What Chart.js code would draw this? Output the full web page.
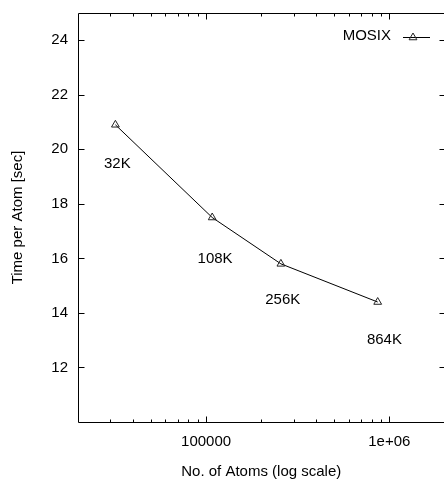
<!DOCTYPE html>
<html>
<head>
<meta charset="utf-8">
<script src="https://cdn.jsdelivr.net/npm/chart.js@4/dist/chart.umd.min.js"></script>
<style>
  html, body { margin: 0; padding: 0; background: #fff; overflow: hidden; }
  #wrap { width: 450px; height: 479px; }
</style>
</head>
<body>
<div id="wrap"><canvas id="c" width="450" height="479"></canvas></div>
<script>
// Simulation size (atoms) and measured time per atom (seconds)
const atoms = [32000, 108000, 256000, 864000];
const timePerAtom = [20.9, 17.5, 15.8, 14.4];
const seriesName = 'MOSIX';

// Point annotations and where they sit, in data coordinates
const labelText = ['32K', '108K', '256K', '864K'];
const labelAtoms = [32800, 112000, 262000, 940000];
const labelTimes = [19.45, 15.98, 14.47, 13.0];

// Axis ticks
const yTicks = [12, 14, 16, 18, 20, 22, 24];
const xMajorTicks = [100000, 1000000];
const xTickText = { 100000: '100000', 1000000: '1e+06' };

const FONT = 'Liberation Sans, Arial, Helvetica, sans-serif';

// Build minor log ticks (2..9 x decade) inside the axis range
function minorLogTicks(min, max) {
  const out = [];
  for (let d = Math.floor(Math.log10(min)); d <= Math.ceil(Math.log10(max)); d++) {
    for (let m = 2; m <= 9; m++) {
      const v = m * Math.pow(10, d);
      if (v > min && v < max) out.push(v);
    }
  }
  return out;
}

// The frame is fixed, so labels must not push the plot area around
function noEdgePadding(s) {
  s.paddingTop = 0; s.paddingBottom = 0; s.paddingLeft = 0; s.paddingRight = 0;
}

// Frame, inward ticks mirrored on all sides, point annotations and key
const framePlugin = {
  id: 'frame',
  afterDatasetsDraw(chart) {
    const { ctx, chartArea: a, scales: { x, y } } = chart;
    ctx.save();
    ctx.strokeStyle = '#000';
    ctx.lineWidth = 1;
    const L = Math.round(a.left) + 0.5, R = Math.round(a.right) + 0.5;
    const T = Math.round(a.top) + 0.5, B = Math.round(a.bottom) + 0.5;
    ctx.beginPath();
    ctx.rect(L, T, R - L, B - T);
    // y ticks, left and right
    yTicks.forEach(v => {
      const py = Math.round(y.getPixelForValue(v)) + 0.5;
      ctx.moveTo(L, py); ctx.lineTo(L + 6, py);
      ctx.moveTo(R, py); ctx.lineTo(R - 6, py);
    });
    // x major ticks, bottom and top
    xMajorTicks.forEach(v => {
      const px = Math.round(x.getPixelForValue(v)) + 0.5;
      ctx.moveTo(px, B); ctx.lineTo(px, B - 6);
      ctx.moveTo(px, T); ctx.lineTo(px, T + 6);
    });
    // x minor ticks
    minorLogTicks(x.min, x.max).forEach(v => {
      const px = Math.round(x.getPixelForValue(v)) + 0.5;
      ctx.moveTo(px, B); ctx.lineTo(px, B - 3);
      ctx.moveTo(px, T); ctx.lineTo(px, T + 3);
    });
    ctx.stroke();

    // annotations
    ctx.fillStyle = '#000';
    ctx.font = '15px ' + FONT;
    ctx.textAlign = 'center';
    ctx.textBaseline = 'middle';
    labelText.forEach((t, i) => {
      ctx.fillText(t, x.getPixelForValue(labelAtoms[i]), y.getPixelForValue(labelTimes[i]));
    });

    // key: name, then line sample with hollow marker
    ctx.textAlign = 'right';
    ctx.fillText(seriesName, 391, 36);
    ctx.beginPath();
    ctx.moveTo(403, 37.5); ctx.lineTo(430, 37.5);
    ctx.stroke();
    const ds = chart.data.datasets[0];
    ctx.fillStyle = 'rgba(255,255,255,0)';
    ctx.strokeStyle = '#222';
    Chart.helpers.drawPoint(ctx, {
      pointStyle: 'triangle', radius: ds.pointRadius, rotation: 0, borderWidth: 1
    }, 413, 37.5);
    ctx.restore();
  }
};

new Chart(document.getElementById('c'), {
  type: 'scatter',
  data: {
    datasets: [{
      label: seriesName,
      data: atoms.map((a, i) => ({ x: a, y: timePerAtom[i] })),
      showLine: true,
      borderColor: '#000',
      borderWidth: 1,
      pointStyle: 'triangle',
      pointRadius: 4.5,
      pointBorderColor: '#222',
      pointBorderWidth: 1,
      pointBackgroundColor: 'rgba(255,255,255,0)',
      tension: 0
    }]
  },
  options: {
    responsive: false,
    animation: false,
    devicePixelRatio: 1,
    layout: { padding: { top: 13, right: 2, left: 0, bottom: 0 } },
    plugins: { legend: { display: false }, tooltip: { enabled: false } },
    scales: {
      x: {
        type: 'logarithmic',
        min: 20000,
        max: 2000000,
        grid: { display: false, drawTicks: false },
        border: { display: false },
        afterFit(s) { s.height = 57; noEdgePadding(s); },
        afterBuildTicks(s) { s.ticks = xMajorTicks.map(v => ({ value: v })); },
        ticks: {
          color: '#000',
          font: { family: FONT, size: 15 },
          padding: 11,
          maxRotation: 0,
          autoSkip: false,
          callback: v => xTickText[v] || ''
        },
        title: {
          display: true,
          text: 'No. of Atoms (log scale)',
          color: '#000',
          font: { family: FONT, size: 15, lineHeight: 1.0 },
          padding: { top: 0, bottom: 0 }
        }
      },
      y: {
        type: 'linear',
        min: 10,
        max: 25,
        grid: { display: false, drawTicks: false },
        border: { display: false },
        afterFit(s) { s.width = 78; noEdgePadding(s); },
        afterBuildTicks(s) { s.ticks = yTicks.map(v => ({ value: v })); },
        ticks: {
          color: '#000',
          font: { family: FONT, size: 15 },
          padding: 10
        },
        title: {
          display: true,
          text: 'Time per Atom [sec]',
          color: '#000',
          font: { family: FONT, size: 15 },
          padding: { top: 9, bottom: 0 }
        }
      }
    }
  },
  plugins: [framePlugin]
});
</script>
</body>
</html>
